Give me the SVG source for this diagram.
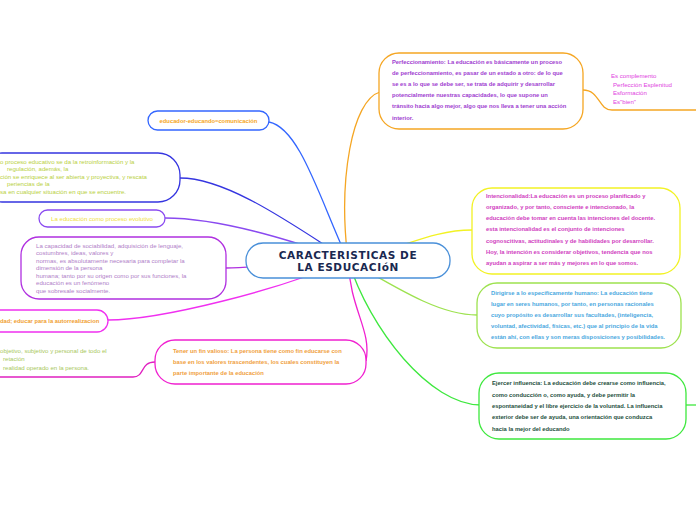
<svg xmlns="http://www.w3.org/2000/svg" width="696" height="520" viewBox="0 0 696 520">
<style>
.n{fill:#fff;stroke-width:1.3}
.c{fill:none;stroke-width:1.3}
.t{font-family:"Liberation Sans",Arial,sans-serif;font-size:5.8px;font-weight:bold}
.r{font-family:"Liberation Sans",Arial,sans-serif;font-size:6.1px}
.h{font-family:"DejaVu Sans",sans-serif;font-size:10.5px;font-weight:900;fill:#1a2850;letter-spacing:0.6px}
</style>
<rect width="696" height="520" fill="#fff"/>
<g id="connectors">
<path class="c" stroke="#f5a623" d="M348,260 C338,180 352,100 380,92"/>
<path class="c" stroke="#3366ff" d="M348,260 C320,200 300,128 269,122"/>
<path class="c" stroke="#3535e0" d="M348,260 C300,230 230,178 180,178"/>
<path class="c" stroke="#8a4af0" d="M348,260 C290,240 220,218 165,218"/>
<path class="c" stroke="#b030e0" d="M348,260 C300,262 260,268 226,268"/>
<path class="c" stroke="#f030f0" d="M348,260 C280,290 160,320 108,320"/>
<path class="c" stroke="#f020d0" d="M348,260 C350,310 372,330 366,361"/>
<path class="c" stroke="#3ee83e" d="M348,260 C370,330 430,405 481,405"/>
<path class="c" stroke="#9de24f" d="M348,260 C400,290 440,315 477,315"/>
<path class="c" stroke="#f2f224" d="M348,260 C400,250 430,230 472,230"/>
<path class="c" stroke="#f5a623" d="M583,90 C600,90 598,110 612,110 L696,110"/>
<path class="c" stroke="#3ee83e" d="M686,405 L696,405"/>
<path class="c" stroke="#e020c0" d="M0,377 L133,377 C145,377 140,362 155,362"/>
</g>
<g id="center">
<rect class="n" x="246" y="243" width="204" height="35" rx="17" stroke="#4a90d9"/>
<text class="h" x="348" y="259" text-anchor="middle">CARACTERISTICAS DE</text>
<text class="h" x="348" y="271" text-anchor="middle">LA ESDUCACIóN</text>
</g>
<g id="perfeccionamiento">
<rect class="n" x="379" y="53" width="204" height="76" rx="20" stroke="#f5a623"/>
<g class="t" fill="#a040d0">
<text x="392" y="64">Perfeccionamiento: La educación es básicamente un proceso</text>
<text x="392" y="75">de perfeccionamiento, es pasar de un estado a otro: de lo que</text>
<text x="392" y="86">se es a lo que se debe ser, se trata de adquirir y desarrollar</text>
<text x="392" y="97">potencialmente nuestras capacidades, lo que supone un</text>
<text x="392" y="108">tránsito hacia algo mejor, algo que nos lleva a tener una acción</text>
<text x="392" y="120">interior.</text>
</g>
</g>
<g id="complemento" class="r" fill="#e040e0">
<text x="611" y="78">Es complemento</text>
<text x="613" y="87">Perfección Esplenitud</text>
<text x="613" y="95">Esformación</text>
<text x="613" y="104">Es"bien"</text>
</g>
<g id="intencionalidad">
<rect class="n" x="472" y="188" width="208" height="86" rx="20" stroke="#f2f224"/>
<g class="t" fill="#d040c0">
<text x="486" y="198">Intencionalidad:La educación es un proceso planificado y</text>
<text x="486" y="209">organizado, y por tanto, consciente e intencionado, la</text>
<text x="486" y="220">educación debe tomar en cuenta las intenciones del docente.</text>
<text x="486" y="231">esta intencionalidad es el conjunto de intenciones</text>
<text x="486" y="243">cognoscitivas, actitudinales y de habilidades por desarrollar.</text>
<text x="486" y="254">Hoy, la intención es considerar objetivos, tendencia que nos</text>
<text x="486" y="265">ayudan a aspirar a ser más y mejores en lo que somos.</text>
</g>
</g>
<g id="dirigirse">
<rect class="n" x="477" y="283" width="204" height="65" rx="20" stroke="#9de24f"/>
<g class="t" fill="#4aa8e0">
<text x="491" y="295">Dirigirse a lo específicamente humano: La educación tiene</text>
<text x="491" y="306">lugar en seres humanos, por tanto, en personas racionales</text>
<text x="491" y="317">cuyo propósito es desarrollar sus facultades, (inteligencia,</text>
<text x="491" y="328">voluntad, afectividad, físicas, etc.) que al principio de la vida</text>
<text x="491" y="339">están ahí, con ellas y son meras disposiciones y posibilidades.</text>
</g>
</g>
<g id="ejercer">
<rect class="n" x="479" y="373" width="207" height="66" rx="20" stroke="#3ee83e"/>
<g class="t" fill="#1e5040">
<text x="492" y="385">Ejercer influencia: La educación debe crearse como influencia,</text>
<text x="492" y="397">como conducción o, como ayuda, y debe permitir la</text>
<text x="492" y="408">espontaneidad y el libre ejercicio de la voluntad. La influencia</text>
<text x="492" y="419">exterior debe ser de ayuda, una orientación que conduzca</text>
<text x="492" y="431">hacia la mejor del educando</text>
</g>
</g>
<g id="educador">
<rect class="n" x="148" y="111" width="121" height="19" rx="9.5" stroke="#3366ff"/>
<text class="t" x="208.5" y="122.5" text-anchor="middle" fill="#f5a623">educador-educando=comunicación</text>
</g>
<g id="retroinformacion">
<rect class="n" x="-20" y="153" width="200" height="49" rx="22" stroke="#3535e0"/>
<g class="r" fill="#b8d040">
<text x="0" y="164">o proceso educativo se da la retroinformación y la</text>
<text x="7" y="171">regulación, además, la</text>
<text x="0" y="179">ción se enriquece al ser abierta y proyectiva, y rescata</text>
<text x="7" y="186">periencias de la</text>
<text x="0" y="194">sa en cualquier situación en que se encuentre.</text>
</g>
</g>
<g id="evolutivo">
<rect class="n" x="39" y="210" width="126" height="17" rx="8.5" stroke="#8a4af0"/>
<text class="r" x="102" y="220.5" text-anchor="middle" fill="#f0e040">La educación como proceso evolutivo</text>
</g>
<g id="sociabilidad">
<rect class="n" x="21" y="237" width="205" height="62" rx="18" stroke="#b030e0"/>
<g class="r" fill="#b080c8">
<text x="36" y="248">La capacidad de sociabilidad, adquisición de lenguaje,</text>
<text x="36" y="255">costumbres, ideas, valores y</text>
<text x="36" y="263">normas, es absolutamente necesaria para completar la</text>
<text x="36" y="270">dimensión de la persona</text>
<text x="36" y="278">humana; tanto por su origen como por sus funciones, la</text>
<text x="36" y="285">educación es un fenómeno</text>
<text x="36" y="293">que sobresale socialmente.</text>
</g>
</g>
<g id="autorrealizacion">
<rect class="n" x="-20" y="310" width="128" height="22" rx="11" stroke="#f030f0"/>
<text class="t" x="0" y="323" fill="#f0a030">dad; educar para la autorrealizacion</text>
</g>
<g id="objetivo" class="r" fill="#a8c860">
<text x="0" y="353">objetivo, subjetivo y personal de todo el</text>
<text x="3" y="361">retación</text>
<text x="3" y="370">realidad operado en la persona.</text>
</g>
<g id="fin">
<rect class="n" x="155" y="340" width="211" height="44" rx="20" stroke="#f020d0"/>
<g class="t" fill="#f0a040">
<text x="173" y="353">Tener un fin valioso: La persona tiene como fin educarse con</text>
<text x="173" y="364">base en los valores trascendentes, los cuales constituyen la</text>
<text x="173" y="375">parte importante de la educación</text>
</g>
</g>
</svg>
